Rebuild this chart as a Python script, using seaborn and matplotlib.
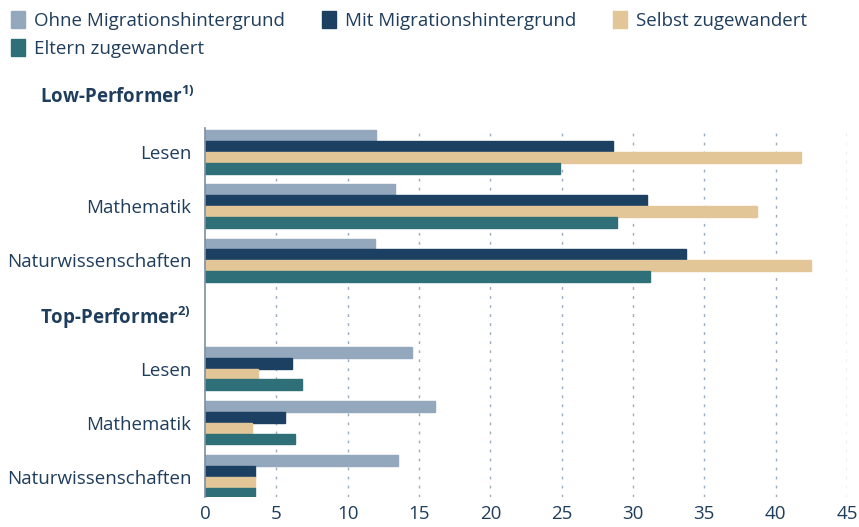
import pandas as pd
import matplotlib
matplotlib.use('Agg')
import matplotlib.pyplot as plt
import seaborn as sns

# ------------------- Data -------------------
subjects = ['Lesen', 'Mathematik', 'Naturwissenschaften']
groups = ['Ohne Migrationshintergrund', 'Mit Migrationshintergrund',
          'Selbst zugewandert', 'Eltern zugewandert']

low_ohne = [12.0, 13.3, 11.9]
low_mit = [28.6, 31.0, 33.7]
low_selbst = [41.8, 38.7, 42.5]
low_eltern = [24.9, 28.9, 31.2]

top_ohne = [14.5, 16.1, 13.5]
top_mit = [6.1, 5.6, 3.5]
top_selbst = [3.7, 3.3, 3.5]
top_eltern = [6.8, 6.3, 3.5]

colors = ['#93a8bc', '#1c4062', '#e2c698', '#2f7078']
text_color = '#1f3d5c'
fs = 13.5

# ------------------- Build long table -------------------
rows = []
for block, series in [('low', [low_ohne, low_mit, low_selbst, low_eltern]),
                      ('top', [top_ohne, top_mit, top_selbst, top_eltern])]:
    for g, vals in zip(groups, series):
        for s, v in zip(subjects, vals):
            rows.append({'row': f'{block}_{s}', 'Gruppe': g, 'Anteil': v})
data = pd.DataFrame(rows)

order = [f'low_{s}' for s in subjects] + ['header_top'] + [f'top_{s}' for s in subjects]

# ------------------- Plot -------------------
sns.set_style('white')
plt.rcParams['font.family'] = ['Open Sans', 'DejaVu Sans']
plt.rcParams['mathtext.default'] = 'regular'

fig = plt.figure(figsize=(8.59, 5.27), dpi=100)
ax = fig.add_axes([0.2387, 0.057, 0.9860 - 0.2387, 0.757 - 0.057])

sns.barplot(data=data, y='row', x='Anteil', hue='Gruppe', order=order,
            hue_order=groups, palette=colors, orient='h', width=0.8,
            saturation=1, ax=ax, legend=True)

# close the hairline gaps between neighbouring bars
for p in ax.patches:
    p.set_edgecolor(p.get_facecolor())
    p.set_linewidth(1.0)

ax.set_xlim(0, 45)
ax.set_ylim(6.37, -0.44)
ax.set_xticks(range(0, 50, 5))
ax.set_xlabel('')
ax.set_ylabel('')

labels = subjects + ['Top-Performer$^{2)}$'] + subjects
ax.set_yticks(range(len(order)))
ax.set_yticklabels(labels)
for i, lab in enumerate(ax.get_yticklabels()):
    lab.set_color(text_color)
    lab.set_fontsize(fs)
    if i == 3:
        lab.set_fontweight('bold')
for lab in ax.get_xticklabels():
    lab.set_color(text_color)
    lab.set_fontsize(fs)
ax.tick_params(axis='y', length=0, pad=10)
ax.tick_params(axis='x', length=0, pad=6)

# dotted vertical grid
for x in range(5, 50, 5):
    ax.axvline(x, color='#9aabbd', linestyle=(0, (2, 4.5)), linewidth=1, zorder=0)

for side in ['top', 'right', 'bottom']:
    ax.spines[side].set_visible(False)
ax.spines['left'].set_color('#7b8fa3')
ax.spines['left'].set_linewidth(1.2)

# header for first block above the axes
ax.text(-0.016, -1.0, 'Low-Performer$^{1)}$', transform=ax.get_yaxis_transform(),
        ha='right', va='center', fontsize=fs, fontweight='bold',
        color=text_color, clip_on=False)

# legend, filled row by row
handles, leg_labels = ax.get_legend_handles_labels()
ax.get_legend().remove()
idx = [0, 3, 1, 2]
fig.legend([handles[i] for i in idx], [leg_labels[i] for i in idx],
           loc='upper left', bbox_to_anchor=(0.0, 1.0),
           ncol=3, frameon=False, fontsize=fs, handlelength=0.75,
           handleheight=1.0, handletextpad=0.45, columnspacing=2.0,
           labelspacing=0.5, borderaxespad=0.2, labelcolor=text_color)

fig.savefig('out.png', dpi=100)
